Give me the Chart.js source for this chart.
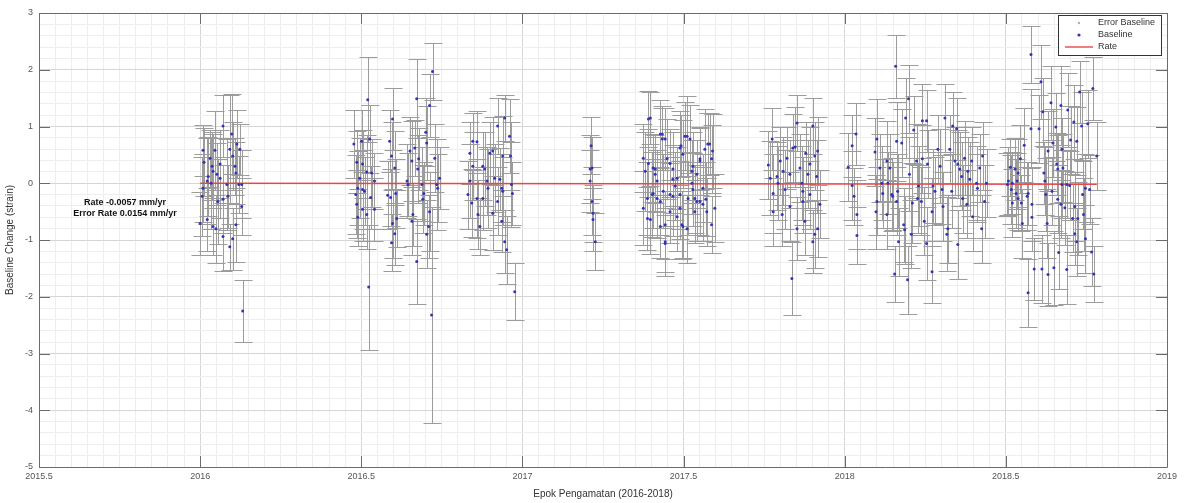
<!DOCTYPE html>
<html>
<head>
<meta charset="utf-8">
<script src="https://cdn.jsdelivr.net/npm/chart.js@4.4.1/dist/chart.umd.min.js"></script>
<style>
  html, body { margin:0; padding:0; background:#fff; }
  #wrap { width:1184px; height:503px; }
</style>
</head>
<body>
<div id="wrap"><canvas id="myChart" width="1184" height="503"></canvas></div>
<script>
// epochs (decimal year), one line per observation campaign
var epoch = [
  2016.000,2016.006,2016.009,2016.009,2016.012,2016.022,2016.022,2016.025,2016.031,2016.034,2016.037,2016.040,2016.040,2016.046,2016.049,2016.052,2016.055,2016.062,2016.062,2016.071,2016.071,2016.071,2016.083,2016.086,2016.092,2016.092,2016.098,2016.101,2016.101,2016.108,2016.111,2016.111,2016.114,2016.120,2016.123,2016.129,2016.129,2016.132,
  2016.477,2016.483,2016.486,2016.486,2016.489,2016.489,2016.495,2016.501,2016.504,2016.504,2016.504,2016.510,2016.517,2016.517,2016.520,2016.523,2016.526,2016.529,2016.532,2016.541,2016.541,
  2016.582,2016.588,2016.591,2016.594,2016.594,2016.597,2016.597,2016.604,2016.604,2016.607,2016.610,
  2016.642,2016.645,2016.651,2016.657,2016.657,2016.660,2016.666,2016.672,2016.672,2016.675,2016.678,2016.688,2016.691,2016.694,2016.700,2016.703,2016.703,2016.709,2016.712,2016.712,2016.718,2016.721,2016.728,2016.734,2016.737,2016.743,
  2016.831,2016.837,2016.837,2016.843,2016.846,2016.846,2016.859,2016.859,2016.862,2016.868,2016.877,2016.877,2016.883,2016.890,2016.893,2016.899,2016.908,2016.908,2016.914,2016.923,2016.923,2016.930,2016.936,2016.936,2016.939,2016.939,2016.945,2016.945,2016.951,2016.960,2016.963,2016.966,2016.969,2016.976,
  2017.210,2017.210,2017.213,2017.216,2017.216,2017.219,2017.219,2017.226,
  2017.375,2017.375,2017.381,2017.388,2017.391,2017.397,2017.397,2017.403,2017.406,2017.412,2017.418,2017.418,2017.428,2017.428,2017.428,2017.434,2017.437,2017.443,2017.443,2017.449,2017.458,2017.458,2017.467,2017.467,2017.474,2017.480,2017.480,2017.489,2017.489,2017.489,2017.498,2017.498,2017.511,2017.511,2017.514,2017.520,2017.526,2017.529,2017.529,2017.535,2017.535,2017.541,2017.541,2017.551,2017.551,2017.560,2017.560,2017.566,2017.572,2017.575,2017.587,2017.587,2017.590,2017.597,
  2017.391,2017.412,2017.434,2017.443,2017.443,2017.467,2017.492,2017.495,2017.504,2017.526,2017.551,2017.569,2017.581,2017.406,2017.388,2017.458,
  2017.763,2017.769,2017.775,2017.778,2017.778,2017.790,2017.793,2017.800,2017.806,2017.809,2017.815,2017.821,2017.830,2017.830,2017.836,2017.839,2017.846,2017.852,2017.852,2017.861,2017.867,2017.870,2017.870,2017.876,2017.879,2017.886,2017.892,2017.892,2017.901,2017.901,2017.907,2017.907,2017.913,2017.916,2017.916,2017.923,
  2018.011,2018.023,2018.023,2018.029,2018.035,2018.038,2018.038,
  2018.094,2018.097,2018.100,2018.100,2018.109,2018.115,2018.118,2018.131,2018.131,2018.134,2018.140,2018.146,2018.149,2018.155,2018.158,2018.161,2018.161,2018.164,2018.167,2018.177,2018.183,2018.186,2018.189,2018.195,2018.198,2018.201,2018.207,2018.210,2018.214,2018.223,2018.226,2018.229,2018.238,2018.241,2018.241,2018.247,2018.254,2018.254,2018.257,
  2018.271,2018.271,2018.274,2018.280,2018.289,2018.296,2018.302,2018.305,2018.311,2018.317,2018.320,2018.326,2018.332,2018.335,2018.342,2018.348,2018.351,2018.351,2018.357,2018.363,2018.366,2018.372,2018.379,2018.382,2018.388,2018.394,2018.397,2018.409,2018.412,2018.419,2018.425,2018.428,2018.434,2018.440,
  2018.505,2018.508,2018.514,2018.517,2018.520,2018.520,2018.529,2018.532,2018.535,2018.538,2018.538,2018.545,2018.548,2018.551,2018.557,2018.566,2018.569,2018.569,2018.578,2018.578,2018.581,2018.581,2018.588,2018.603,2018.609,2018.612,2018.615,2018.618,2018.621,2018.624,2018.628,2018.631,2018.631,2018.640,2018.643,2018.646,2018.649,2018.655,2018.658,2018.661,2018.661,2018.664,2018.671,2018.671,2018.674,2018.674,2018.677,2018.683,2018.689,2018.689,2018.692,2018.698,2018.701,2018.707,2018.711,2018.714,2018.714,2018.720,2018.720,2018.723,2018.729,2018.735,2018.738,2018.741,2018.747,2018.747,2018.754,2018.760,2018.766,2018.770,2018.773,2018.782
];

// baseline change (strain)
var baseline = [
  -0.71,-0.23,0.58,-0.09,0.37,0.04,-0.64,0.12,0.44,0.00,0.30,0.21,-0.76,0.58,-0.80,0.16,-0.32,0.34,0.09,1.01,-0.28,-0.94,-0.02,-0.23,0.60,-1.12,0.87,0.48,-0.98,0.30,0.18,-0.73,0.69,-0.02,0.60,-0.02,-0.41,-2.25,
  0.69,-0.20,0.37,-0.37,-0.09,-0.60,0.09,0.74,0.34,-0.11,-0.46,-0.14,0.20,-0.55,1.47,-1.83,0.78,-0.25,0.18,0.04,-0.46,
  -0.21,0.74,-0.25,0.48,-1.05,1.13,-0.71,0.27,-0.89,-0.18,-0.62,
  0.04,-0.02,0.57,0.39,-0.67,-0.55,0.62,1.49,-1.38,0.25,0.43,-0.02,-0.28,-0.18,0.90,0.71,-0.90,-0.76,1.37,-0.50,-2.32,1.97,0.44,-0.02,-0.09,0.09,
  -0.20,0.53,0.04,-0.35,0.74,0.30,0.73,-0.27,-0.55,-0.76,0.30,-0.27,0.25,0.04,-0.09,0.53,0.57,-0.53,0.09,1.01,-0.32,0.07,-0.09,-0.67,0.48,-0.14,1.15,-1.03,-1.17,0.83,0.48,-0.02,-0.18,-1.91,
  0.25,0.04,0.66,0.27,-0.32,-0.53,-0.64,-1.03,
  0.44,-0.44,0.21,-0.62,0.35,1.15,-0.64,-0.20,0.27,0.16,-0.27,0.04,0.87,-0.32,-0.76,0.87,-0.14,0.78,-1.03,0.43,0.35,-0.50,0.25,-0.23,-0.05,0.09,-0.59,0.62,-0.44,-0.20,0.51,-0.76,0.83,-0.80,-0.27,0.78,0.00,0.30,-0.11,-0.27,-0.50,0.16,-0.32,0.43,-0.32,-0.37,-0.09,0.60,-0.50,0.69,0.43,-0.73,0.57,-0.44,
  1.13,0.25,0.78,-0.73,-1.06,0.07,0.66,-0.73,0.83,0.21,0.39,-0.28,0.69,-0.18,-0.27,-0.20,
  0.32,0.09,0.78,-0.18,-0.50,0.12,0.00,0.39,-0.55,0.21,-0.11,0.44,0.16,-0.41,-1.68,0.62,0.64,1.06,-0.80,0.27,0.00,-0.14,-0.32,-0.67,0.53,0.16,0.34,-0.20,1.01,-1.03,0.48,-0.90,0.12,0.57,-0.80,-0.37,
  0.28,0.66,-0.04,-0.23,0.87,-0.55,-0.92,
  0.55,-0.50,0.78,-0.32,0.27,0.00,-0.18,0.39,-0.55,0.00,0.27,-0.20,-0.23,-1.60,2.06,0.74,-0.32,-0.14,-1.03,0.71,-0.73,-0.82,1.15,-1.70,1.49,0.16,-0.90,-0.35,0.94,0.39,-0.27,-0.05,-0.32,0.43,1.10,-0.67,1.10,-1.06,0.34,
  -0.50,-1.56,-0.05,-0.14,0.60,0.30,-0.11,-0.41,1.15,-0.90,-0.80,0.60,-0.14,1.01,0.39,0.96,0.34,-1.08,0.25,0.12,-0.27,0.44,-0.37,0.21,0.07,0.39,-0.59,0.00,-0.09,0.27,-0.80,0.48,-0.32,0.00,
  -0.02,0.04,0.28,-0.11,0.00,-0.35,0.25,-0.18,0.04,0.18,-0.27,0.43,-0.35,-0.71,0.67,-0.23,-0.18,-1.93,2.27,0.96,-0.60,-0.37,-1.51,0.96,1.79,-1.51,1.26,0.18,0.04,-0.20,-0.71,0.57,-1.61,1.42,-0.14,0.71,-1.49,0.99,0.34,0.25,-0.28,-1.22,1.37,-0.37,0.60,-0.02,0.27,-0.43,-0.02,-1.52,1.29,-0.04,0.76,-0.62,1.08,-0.41,-0.89,0.74,-1.03,-0.62,1.61,1.01,-0.20,-0.55,-0.09,-0.98,1.05,-0.11,-1.21,1.67,-1.60,0.48
];

// error of each baseline (half length of the bar)
var errBaseline = [
  0.55,0.7,0.45,0.6,0.6,0.75,0.55,0.7,0.5,0.8,0.6,0.65,0.5,0.7,0.6,0.55,0.75,0.6,0.7,0.55,0.6,0.6,0.8,0.55,0.95,0.4,0.7,0.6,0.55,0.5,0.55,0.65,0.6,0.5,0.45,0.6,0.5,0.54,
  0.6,0.7,0.55,0.6,0.65,0.5,0.7,0.55,0.6,0.7,0.55,0.6,0.65,0.6,0.75,1.1,0.6,0.55,0.6,0.5,0.55,
  0.6,0.55,0.5,0.6,0.5,0.55,0.6,0.65,0.55,0.6,0.5,
  0.65,0.55,0.6,0.7,0.6,0.55,0.5,0.7,0.75,0.6,0.55,0.65,0.6,0.55,0.6,0.65,0.6,0.55,0.55,0.7,1.9,0.5,0.6,0.8,0.6,0.55,
  0.6,0.55,0.65,0.6,0.5,0.6,0.55,0.7,0.6,0.5,0.6,0.55,0.65,0.6,0.7,0.55,0.6,0.65,0.6,0.5,0.6,0.55,0.6,0.55,0.7,0.6,0.4,0.55,0.6,0.65,0.6,0.75,0.55,0.5,
  0.6,0.55,0.5,0.55,0.6,0.5,0.55,0.5,
  0.6,0.65,0.7,0.55,0.6,0.45,0.6,0.75,0.6,0.65,0.7,0.55,0.6,0.6,0.55,0.5,0.65,0.55,0.6,0.7,0.6,0.55,0.65,0.7,0.6,0.55,0.6,0.65,0.55,0.6,0.6,0.55,0.7,0.6,0.65,0.6,0.55,0.6,0.65,0.6,0.55,0.6,0.7,0.55,0.6,0.65,0.6,0.7,0.6,0.55,0.6,0.5,0.65,0.6,
  0.5,0.6,0.55,0.6,0.5,0.6,0.55,0.6,0.6,0.55,0.6,0.65,0.55,0.6,0.65,0.55,
  0.6,0.65,0.55,0.7,0.6,0.6,0.65,0.6,0.55,0.6,0.7,0.55,0.6,0.6,0.65,0.6,0.7,0.5,0.55,0.6,0.65,0.6,0.55,0.6,0.55,0.6,0.65,0.6,0.5,0.55,0.6,0.6,0.65,0.6,0.5,0.6,
  0.6,0.55,0.6,0.5,0.55,0.6,0.5,
  0.6,0.65,0.7,0.6,0.6,0.65,0.6,0.7,0.6,0.55,0.6,0.65,0.6,0.5,0.55,0.7,0.6,0.65,0.6,0.6,0.65,0.6,0.7,0.6,0.6,0.65,0.6,0.7,0.6,0.65,0.6,0.7,0.6,0.6,0.65,0.6,0.55,0.65,0.6,
  0.6,0.55,0.65,0.6,0.6,0.65,0.6,0.6,0.6,0.65,0.6,0.6,0.65,0.6,0.6,0.55,0.6,0.6,0.65,0.6,0.6,0.65,0.6,0.6,0.65,0.6,0.6,0.65,0.6,0.6,0.6,0.6,0.65,0.6,
  0.55,0.6,0.5,0.6,0.55,0.6,0.55,0.6,0.5,0.6,0.55,0.6,0.5,0.6,0.65,0.6,0.55,0.6,0.5,0.7,0.6,0.65,0.55,0.6,0.65,0.6,0.6,0.55,0.6,0.65,0.6,0.7,0.55,0.65,0.6,0.6,0.65,0.6,0.55,0.6,0.6,0.65,0.7,0.6,0.55,0.6,0.6,0.65,0.6,0.6,0.65,0.6,0.6,0.6,0.65,0.6,0.55,0.6,0.6,0.65,0.55,0.6,0.6,0.65,0.6,0.6,0.6,0.6,0.6,0.55,0.5,0.6
];

// fitted rate line
var rateEpoch = [2016.000, 2018.782];
var rateValue = [0.000, -0.016];

var xMajor = [2015.5, 2016, 2016.5, 2017, 2017.5, 2018, 2018.5, 2019];
var yMajor = [-5, -4, -3, -2, -1, 0, 1, 2, 3];
var rateText = ['Rate -0.0057 mm/yr', 'Error Rate 0.0154 mm/yr'];
var legendNames = ['Error Baseline', 'Baseline', 'Rate'];

var barColor = '#9c9c9c';
var dotColor = '#3434b8';
var rateColor = '#e8474a';
var axisColor = '#6b6b6b';

function isMajor(list, v) {
  for (var i = 0; i < list.length; i++) {
    if (Math.abs(list[i] - v) < 1e-6) return true;
  }
  return false;
}

var points = epoch.map(function(e, i) { return {x: e, y: baseline[i]}; });
var ratePoints = rateEpoch.map(function(e, i) { return {x: e, y: rateValue[i]}; });

// vertical error bars with caps, drawn below the markers
var errorBars = {
  id: 'errorBars',
  beforeDatasetsDraw: function(chart) {
    var ctx = chart.ctx, xs = chart.scales.x, ys = chart.scales.y, a = chart.chartArea;
    var cap = 9;
    ctx.save();
    ctx.beginPath();
    ctx.rect(a.left, a.top, a.right - a.left, a.bottom - a.top);
    ctx.clip();
    ctx.strokeStyle = barColor;
    ctx.lineWidth = 1;
    ctx.beginPath();
    for (var i = 0; i < epoch.length; i++) {
      var px = Math.round(xs.getPixelForValue(epoch[i])) + 0.5;
      var top = Math.round(ys.getPixelForValue(baseline[i] + errBaseline[i])) + 0.5;
      var bot = Math.round(ys.getPixelForValue(baseline[i] - errBaseline[i])) + 0.5;
      ctx.moveTo(px, top); ctx.lineTo(px, bot);
      ctx.moveTo(px - cap, top); ctx.lineTo(px + cap, top);
      ctx.moveTo(px - cap, bot); ctx.lineTo(px + cap, bot);
    }
    ctx.stroke();
    ctx.restore();
  }
};

// axes box, inward ticks, rate text and legend
var decor = {
  id: 'decor',
  afterDraw: function(chart) {
    var ctx = chart.ctx, xs = chart.scales.x, ys = chart.scales.y, a = chart.chartArea;
    var tl = 11;
    ctx.save();
    ctx.strokeStyle = axisColor;
    ctx.lineWidth = 1;
    ctx.beginPath();
    ctx.rect(Math.round(a.left) + 0.5, Math.round(a.top) + 0.5, Math.round(a.right - a.left), Math.round(a.bottom - a.top));
    xMajor.forEach(function(v) {
      var px = Math.round(xs.getPixelForValue(v)) + 0.5;
      ctx.moveTo(px, a.bottom); ctx.lineTo(px, a.bottom - tl);
      ctx.moveTo(px, a.top); ctx.lineTo(px, a.top + tl);
    });
    yMajor.forEach(function(v) {
      var py = Math.round(ys.getPixelForValue(v)) + 0.5;
      ctx.moveTo(a.left, py); ctx.lineTo(a.left + tl, py);
      ctx.moveTo(a.right, py); ctx.lineTo(a.right - tl, py);
    });
    ctx.stroke();

    // rate annotation
    ctx.fillStyle = '#111';
    ctx.font = 'bold 9px "Liberation Sans", Arial, sans-serif';
    ctx.textAlign = 'center';
    ctx.textBaseline = 'middle';
    ctx.fillText(rateText[0], 125, 203);
    ctx.fillText(rateText[1], 125, 214);

    // legend
    var lx = 1058, ly = 15, lw = 103, lh = 40;
    ctx.fillStyle = '#fff';
    ctx.fillRect(lx, ly, lw, lh);
    ctx.strokeStyle = '#333';
    ctx.lineWidth = 1;
    ctx.strokeRect(lx + 0.5, ly + 0.5, lw, lh);
    var rows = [ly + 8, ly + 20, ly + 32];
    ctx.font = '9px "Liberation Sans", Arial, sans-serif';
    ctx.textAlign = 'left';
    ctx.fillStyle = '#333';
    legendNames.forEach(function(n, i) { ctx.fillText(n, lx + 40, rows[i]); });
    ctx.fillStyle = '#b0b0b0';
    ctx.beginPath(); ctx.arc(lx + 21, rows[0], 1.2, 0, Math.PI * 2); ctx.fill();
    ctx.fillStyle = dotColor;
    ctx.beginPath(); ctx.arc(lx + 21, rows[1], 1.6, 0, Math.PI * 2); ctx.fill();
    ctx.beginPath();
    ctx.strokeStyle = rateColor;
    ctx.lineWidth = 1.4;
    ctx.moveTo(lx + 7, rows[2]); ctx.lineTo(lx + 35, rows[2]);
    ctx.stroke();
    ctx.restore();
  }
};

var tickFont = {family: '"Liberation Sans", Arial, sans-serif', size: 9};
var titleFont = {family: '"Liberation Sans", Arial, sans-serif', size: 10};

var ctx = document.querySelector('#myChart').getContext('2d');
var myChart = new Chart(ctx, {
  type: 'scatter',
  data: {
    datasets: [
      {
        label: 'Baseline',
        data: points,
        pointRadius: 1.5,
        pointBackgroundColor: dotColor,
        pointBorderWidth: 0,
        order: 1
      },
      {
        label: 'Rate',
        type: 'line',
        data: ratePoints,
        borderColor: rateColor,
        borderWidth: 1.5,
        pointRadius: 0,
        fill: false,
        order: 2
      }
    ]
  },
  options: {
    responsive: false,
    animation: false,
    events: [],
    layout: { padding: { top: 13, right: 17, left: 0, bottom: 0 } },
    plugins: {
      legend: { display: false },
      tooltip: { enabled: false }
    },
    scales: {
      x: {
        type: 'linear',
        min: 2015.5,
        max: 2019,
        afterFit: function(s) { s.height = 36; },
        border: { display: false },
        grid: {
          drawTicks: false,
          color: function(c) { return c.tick && isMajor(xMajor, c.tick.value) ? '#d6d6d6' : '#eeeeee'; }
        },
        ticks: {
          stepSize: 0.05,
          autoSkip: false,
          maxRotation: 0,
          padding: 4,
          color: '#555',
          font: tickFont,
          callback: function(v) { return isMajor(xMajor, v) ? String(Math.round(v * 10) / 10) : ''; }
        },
        title: {
          display: true,
          text: 'Epok Pengamatan (2016-2018)',
          color: '#333',
          font: titleFont,
          padding: { top: 0, bottom: 3 }
        }
      },
      y: {
        min: -5,
        max: 3,
        afterFit: function(s) { s.width = 39; },
        border: { display: false },
        grid: {
          drawTicks: false,
          color: function(c) { return c.tick && isMajor(yMajor, c.tick.value) ? '#d6d6d6' : '#eeeeee'; }
        },
        ticks: {
          stepSize: 0.2,
          autoSkip: false,
          padding: 6,
          color: '#555',
          font: tickFont,
          callback: function(v) { return isMajor(yMajor, v) ? String(Math.round(v)) : ''; }
        },
        title: {
          display: true,
          text: 'Baseline Change (strain)',
          color: '#333',
          font: titleFont,
          padding: { top: 4, bottom: 0 }
        }
      }
    }
  },
  plugins: [errorBars, decor]
});
</script>
</body>
</html>
